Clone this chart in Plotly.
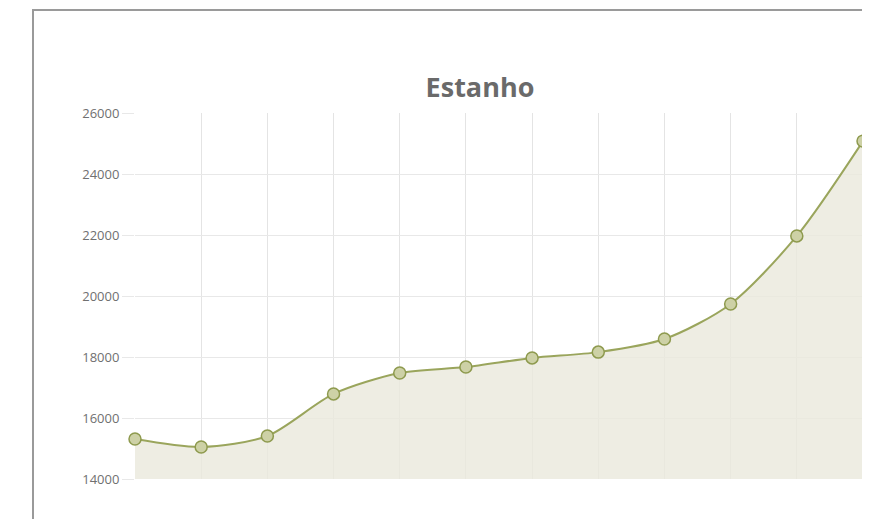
import plotly.graph_objects as go

categories = ["1", "2", "3", "4", "5", "6", "7", "8", "9", "10", "11", "12"]
values = [15310, 15050, 15410, 16790, 17475, 17670, 17970, 18160, 18590, 19740, 21970, 25080]
y_ticks = [14000, 16000, 18000, 20000, 22000, 24000, 26000]

OFF = 8  # page body margin
W, H = 870 - OFF, 519 - OFF
L, R, T, B = 135 - OFF, 7, 113 - OFF, 40
pw, ph = W - L - R, H - T - B

def px_x(p):
    return (p - OFF - L) / pw

def px_y(p):
    return (H - B - (p - OFF)) / ph

fig = go.Figure()
fig.add_trace(go.Scatter(
    x=categories, y=values,
    mode="lines+markers",
    line=dict(color="#9aa55c", width=2, shape="spline", smoothing=0.8),
    marker=dict(size=12, color="#cdd1a6", line=dict(color="#8e9a4e", width=1.5)),
    fill="tozeroy",
    fillcolor="rgba(234,232,220,0.8)",
    cliponaxis=False,
    hoverinfo="x+y",
))

fig.update_layout(
    width=W, height=H,
    margin=dict(l=L, r=R, t=T, b=B),
    paper_bgcolor="white", plot_bgcolor="white",
    showlegend=False,
    font=dict(family="Open Sans", color="#666666"),
    title=dict(text="<b>Estanho</b>", x=px_x(480), xref="paper", xanchor="center",
               y=1 - (88 - OFF) / H, yref="container", yanchor="middle",
               font=dict(family="Open Sans", size=27, color="#6a6a6a")),
    xaxis=dict(range=[0, 11], showgrid=True, gridcolor="#e4e4e4", gridwidth=1,
               showticklabels=False, zeroline=False, showline=False, ticks=""),
    yaxis=dict(range=[14000, 26000], tickvals=y_ticks, tickformat="d", showgrid=True,
               gridcolor="#e8e8e8", gridwidth=1, zeroline=False, showline=False,
               ticks="outside", ticklen=12, tickcolor="#e8e8e8",
               tickfont=dict(size=13, color="#707070", family="Open Sans")),
    shapes=[dict(type="rect", xref="paper", yref="paper",
                 x0=px_x(33), x1=px_x(900), y0=px_y(560), y1=px_y(10),
                 line=dict(color="#9a9a9a", width=2), layer="above")],
)

fig.write_html("out.html")
